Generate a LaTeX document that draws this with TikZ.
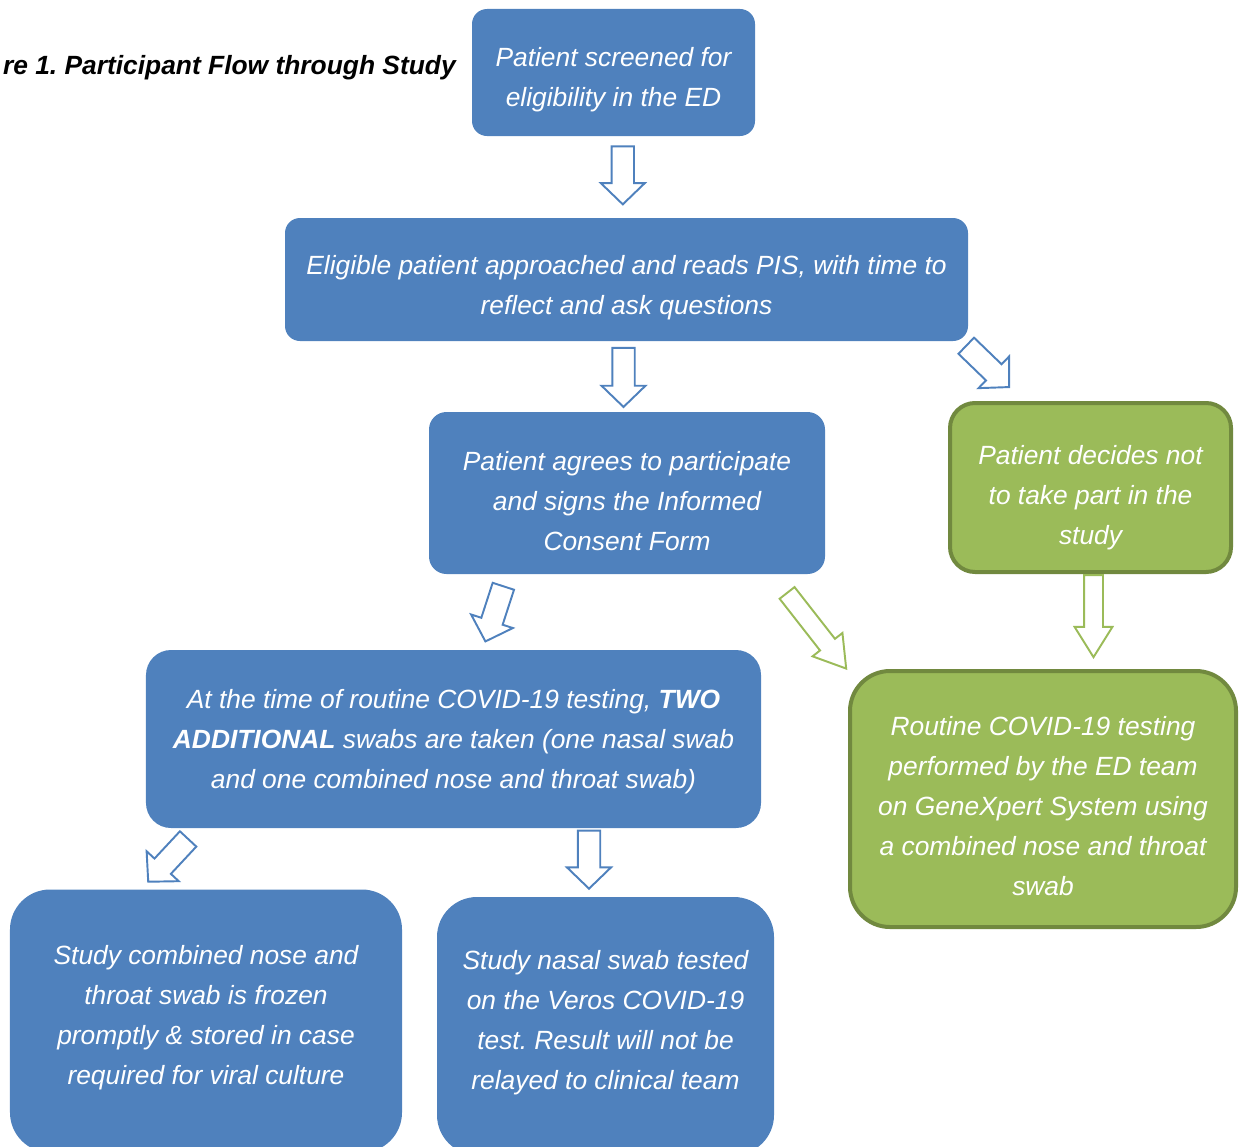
\documentclass[tikz,border=0pt]{standalone}
\usepackage{fontspec}
\setmainfont{Liberation Sans}
\usepackage{tikz}
\usetikzlibrary{shapes.arrows}
\frenchspacing

\definecolor{boxblue}{HTML}{4F81BD}
\definecolor{boxgreen}{HTML}{9BBB59}
\definecolor{rimgreen}{HTML}{71893F}

\tikzset{
  boxtext/.style={text=white, align=center, inner sep=0pt, text depth=0pt,
    font=\itshape\fontsize{15}{22.8}\selectfont},
  bluebox/.style={boxtext, fill=boxblue},
  greenbox/.style={boxtext, fill=boxgreen, draw=rimgreen, line width=0.08cm},
  blueflow/.style={single arrow, draw=boxblue, line width=1.1pt, fill=white,
    inner xsep=0pt, inner ysep=0.205cm, minimum width=0.84cm,
    single arrow head extend=0.215cm, single arrow tip angle=92, anchor=tip},
  greenflow/.style={single arrow, draw=boxgreen, line width=1.1pt, fill=white,
    inner xsep=0pt, inner ysep=0.17cm, minimum width=0.72cm,
    single arrow head extend=0.19cm, single arrow tip angle=64, anchor=tip},
}

\begin{document}
\begin{tikzpicture}[x=0.2mm,y=-0.2mm]
  \clip (0,0) rectangle (1242,1146);

  \draw (456,68) node[anchor=east, inner sep=0pt,
      font=\bfseries\itshape\fontsize{15}{18}\selectfont] (title) {re 1. Participant Flow through Study};

  % boxes
  \draw (613.5,72.5) node[bluebox, minimum width=5.66cm, minimum height=2.54cm, rounded corners=0.3cm, text height=38.3pt] (screen)
      {Patient screened for\\eligibility in the ED};
  \draw (626.5,279.5) node[bluebox, minimum width=13.66cm, minimum height=2.46cm, rounded corners=0.3cm, text height=39.4pt] (approach)
      {Eligible patient approached and reads PIS, with time to\\reflect and ask questions};
  \draw (627,493) node[bluebox, minimum width=7.92cm, minimum height=3.24cm, rounded corners=0.35cm, text height=65.6pt] (consent)
      {Patient agrees to participate\\and signs the Informed\\Consent Form};
  \draw (1090.5,487.5) node[greenbox, minimum width=5.62cm, minimum height=3.38cm, rounded corners=0.5cm, text height=64.5pt] (decline)
      {Patient decides not\\to take part in the\\study};
  \draw (453.5,739) node[bluebox, minimum width=12.3cm, minimum height=3.56cm, rounded corners=0.5cm] (swabs)
      {At the time of routine COVID-19 testing, \textbf{TWO}\\\textbf{ADDITIONAL} swabs are taken (one nasal swab\\and one combined nose and throat swab)};
  \draw (1043,799) node[greenbox, minimum width=7.72cm, minimum height=5.12cm, rounded corners=0.8cm, text height=110.1pt] (routine)
      {Routine COVID-19 testing\\performed by the ED team\\on GeneXpert System using\\a combined nose and throat\\swab};
  \draw (206,1021) node[bluebox, minimum width=7.84cm, minimum height=5.26cm, rounded corners=0.8cm, text depth=6.6pt] (frozen)
      {Study combined nose and\\throat swab is frozen\\promptly \& stored in case\\required for viral culture};
  \draw (605.5,1026) node[bluebox, minimum width=6.74cm, minimum height=5.16cm, rounded corners=0.8cm, text depth=6.6pt] (veros)
      {Study nasal swab tested\\on the Veros COVID-19\\test. Result will not be\\relayed to clinical team};

  % hollow arrows
  \draw (622.8,205.7) node[blueflow, minimum height=1.16cm, rotate=-90] (go1) {};
  \draw (623.5,408.3) node[blueflow, minimum height=1.18cm, rotate=-90] (go2) {};
  \draw (1010,388) node[blueflow, minimum height=1.19cm, rotate=-44] (out1) {};
  \draw (485,642.7) node[blueflow, minimum height=1.16cm, rotate=-108] (go3) {};
  \draw (847.3,670) node[greenflow, minimum height=1.92cm, rotate=-52] (std1) {};
  \draw (1093.5,659) node[greenflow, minimum height=1.64cm, rotate=-90] (std2) {};
  \draw (147.3,882.7) node[blueflow, minimum height=1.17cm, rotate=-133] (go4) {};
  \draw (589,890) node[blueflow, minimum height=1.16cm, rotate=-90] (go5) {};

\end{tikzpicture}
\end{document}
